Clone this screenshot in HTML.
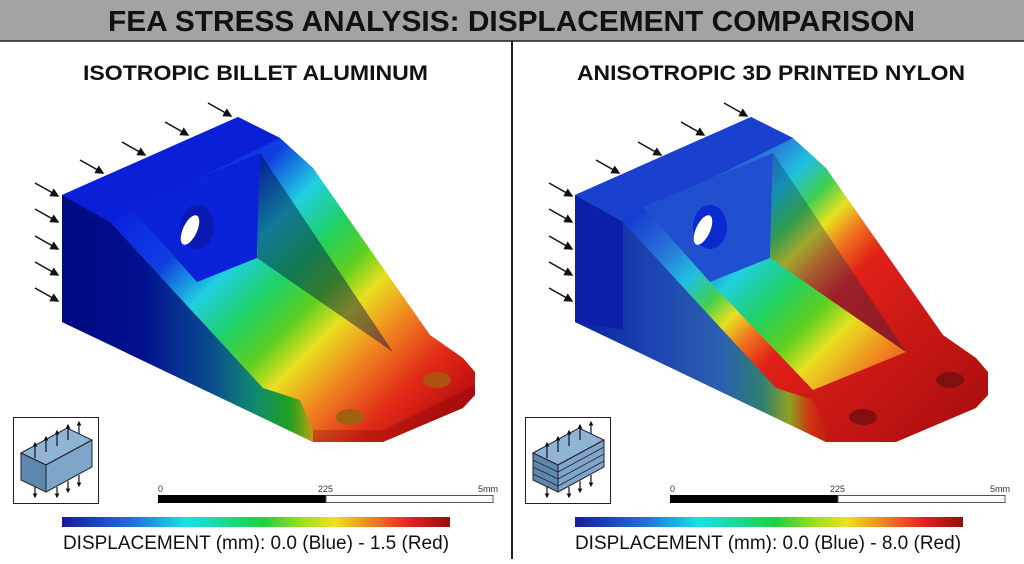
<!DOCTYPE html>
<html><head><meta charset="utf-8"><style>
html,body{margin:0;padding:0;background:#fff;}
body{width:1024px;height:559px;overflow:hidden;font-family:"Liberation Sans",sans-serif;}
</style></head><body>
<svg width="1024" height="559" viewBox="0 0 1024 559" xmlns="http://www.w3.org/2000/svg">
<defs>
<linearGradient id="cb" x1="0" x2="1" y1="0" y2="0">
<stop offset="0" stop-color="#1a1aa0"/><stop offset="0.18" stop-color="#1f6fe0"/><stop offset="0.32" stop-color="#19e0e8"/><stop offset="0.52" stop-color="#22d03a"/><stop offset="0.62" stop-color="#9ae020"/><stop offset="0.7" stop-color="#f0e020"/><stop offset="0.8" stop-color="#f08020"/><stop offset="0.9" stop-color="#e02020"/><stop offset="1" stop-color="#901010"/>
</linearGradient>
<linearGradient id="gL" gradientUnits="userSpaceOnUse" x1="130" y1="190" x2="400" y2="460">
<stop offset="0" stop-color="#0a1ee0"/><stop offset="0.2" stop-color="#1040e0"/><stop offset="0.33" stop-color="#20d0e0"/><stop offset="0.45" stop-color="#20d060"/><stop offset="0.55" stop-color="#60d020"/><stop offset="0.63" stop-color="#e8e020"/><stop offset="0.75" stop-color="#f08020"/><stop offset="0.88" stop-color="#e02a18"/><stop offset="1" stop-color="#c01010"/>
</linearGradient>
<linearGradient id="gR" gradientUnits="userSpaceOnUse" x1="130" y1="190" x2="400" y2="460">
<stop offset="0" stop-color="#1030d0"/><stop offset="0.15" stop-color="#2a70d8"/><stop offset="0.25" stop-color="#20c0e0"/><stop offset="0.33" stop-color="#40d050"/><stop offset="0.4" stop-color="#e8e020"/><stop offset="0.47" stop-color="#f07020"/><stop offset="0.55" stop-color="#e02018"/><stop offset="1" stop-color="#b01010"/>
</linearGradient>
<linearGradient id="fL" gradientUnits="userSpaceOnUse" x1="62" y1="0" x2="330" y2="0">
<stop offset="0" stop-color="#000a80"/><stop offset="0.3" stop-color="#001090"/><stop offset="0.55" stop-color="#0a4a90"/><stop offset="0.72" stop-color="#108a70"/><stop offset="0.85" stop-color="#20a020"/><stop offset="0.93" stop-color="#b0a010"/><stop offset="1" stop-color="#d06010"/>
</linearGradient>
<linearGradient id="fR" gradientUnits="userSpaceOnUse" x1="62" y1="0" x2="330" y2="0">
<stop offset="0" stop-color="#0c1fa0"/><stop offset="0.25" stop-color="#1a40b0"/><stop offset="0.55" stop-color="#2a60b0"/><stop offset="0.7" stop-color="#308070"/><stop offset="0.8" stop-color="#90a020"/><stop offset="0.88" stop-color="#d03010"/><stop offset="1" stop-color="#b01010"/>
</linearGradient>
<marker id="ah" markerWidth="6" markerHeight="6" refX="5" refY="3" orient="auto"><path d="M0,0L6,3L0,6z" fill="#111"/></marker>
<marker id="ah2" markerWidth="4" markerHeight="4" refX="3" refY="2" orient="auto"><path d="M0,0L4,2L0,4z" fill="#111"/></marker>
</defs>
<rect x="0" y="0" width="1024" height="41" fill="#a3a3a3"/>
<line x1="0" y1="41" x2="1024" y2="41" stroke="#222" stroke-width="1.5"/>
<line x1="512" y1="41" x2="512" y2="559" stroke="#222" stroke-width="2"/>
<text x="108" y="31" textLength="807" lengthAdjust="spacingAndGlyphs" font-size="29" font-weight="bold" fill="#111">FEA STRESS ANALYSIS: DISPLACEMENT COMPARISON</text>
<text x="83" y="80" textLength="345" lengthAdjust="spacingAndGlyphs" font-size="21" font-weight="bold" fill="#111">ISOTROPIC BILLET ALUMINUM</text>
<text x="577" y="80" textLength="388" lengthAdjust="spacingAndGlyphs" font-size="21" font-weight="bold" fill="#111">ANISOTROPIC 3D PRINTED NYLON</text>

<!-- Left bracket -->
<g>
<polygon points="62,195 238,117 280,138 313,168 430,335 463,358 475,372 475,395 463,408 383,442 313,442 62,322" fill="url(#gL)"/>
<polygon points="62,195 110,222 263,388 300,400 313,430 313,442 62,322" fill="url(#fL)"/>
<polygon points="62,195 238,117 280,138 110,222" fill="#0b1fd8"/>
<polygon points="130,207 260,153 257,258 197,282" fill="#0a22d8"/>
<polygon points="260,153 393,352 257,258" fill="url(#gL)"/>
<polygon points="260,153 393,352 257,258" fill="#001040" opacity="0.45"/>
<polygon points="313,430 383,430 475,385 475,395 463,408 383,442 313,442" fill="#600" opacity="0.25"/>
<ellipse cx="197" cy="227" rx="17" ry="22" fill="#0a1ab0"/>
<ellipse cx="190" cy="230" rx="7" ry="16" transform="rotate(25 190 230)" fill="#fff"/>
<ellipse cx="437" cy="380" rx="14" ry="8" fill="#b05010"/>
<ellipse cx="350" cy="417" rx="14" ry="8" fill="#a06010"/>
</g>
<!-- Right bracket -->
<g transform="translate(513,0)">
<polygon points="62,195 238,117 280,138 313,168 430,335 463,358 475,372 475,395 463,408 383,442 313,442 62,322" fill="url(#gR)"/>
<polygon points="62,195 110,222 263,388 300,400 313,430 313,442 62,322" fill="url(#fR)"/>
<polygon points="62,195 110,222 110,330 62,322" fill="#0c1fa8"/>
<polygon points="62,195 238,117 280,138 110,222" fill="#1a40d0"/>
<polygon points="130,207 260,153 257,258 197,282" fill="#2050d0"/>
<polygon points="197,282 257,258 393,352 300,390" fill="url(#gL)"/>
<polygon points="260,153 393,352 257,258" fill="url(#gR)"/>
<polygon points="260,153 393,352 257,258" fill="#002050" opacity="0.3"/>
<ellipse cx="197" cy="227" rx="17" ry="22" fill="#0a2ad0"/>
<ellipse cx="190" cy="230" rx="7" ry="16" transform="rotate(25 190 230)" fill="#fff"/>
<ellipse cx="437" cy="380" rx="14" ry="8" fill="#801010"/>
<ellipse cx="350" cy="417" rx="14" ry="8" fill="#801010"/>
</g>

<g stroke="#111" stroke-width="1.5" marker-end="url(#ah)">
<line x1="35" y1="183" x2="58" y2="196"/><line x1="35" y1="209" x2="58" y2="222"/><line x1="35" y1="236" x2="58" y2="249"/><line x1="35" y1="262" x2="58" y2="275"/><line x1="35" y1="288" x2="58" y2="301"/>
<line x1="80" y1="160" x2="103" y2="173"/><line x1="122" y1="142" x2="145" y2="155"/><line x1="165" y1="122" x2="188" y2="135"/><line x1="208" y1="103" x2="231" y2="116"/>
<line x1="549" y1="183" x2="572" y2="196"/><line x1="549" y1="209" x2="572" y2="222"/><line x1="549" y1="236" x2="572" y2="249"/><line x1="549" y1="262" x2="572" y2="275"/><line x1="549" y1="288" x2="572" y2="301"/>
<line x1="596" y1="160" x2="619" y2="173"/><line x1="638" y1="142" x2="661" y2="155"/><line x1="681" y1="122" x2="704" y2="135"/><line x1="724" y1="103" x2="747" y2="116"/>
</g>

<g>
<rect x="13.5" y="417.5" width="85" height="86" fill="#fff" stroke="#222"/>
<polygon points="21,453 67,428 92,440 46,465" fill="#8fb4d4" stroke="#223" />
<polygon points="21,453 46,465 46,492 21,480" fill="#5f88ae" stroke="#223"/>
<polygon points="46,465 92,440 92,467 46,492" fill="#7fa6c8" stroke="#223"/>
<rect x="525.5" y="417.5" width="85" height="86" fill="#fff" stroke="#222"/>
<polygon points="533,453 579,428 604,440 558,465" fill="#8fb4d4" stroke="#223"/>
<polygon points="533,453 558,465 558,492 533,480" fill="#5f88ae" stroke="#223"/>
<polygon points="558,465 604,440 604,467 558,492" fill="#7fa6c8" stroke="#223"/>
<g stroke="#223" stroke-width="0.8"><line x1="533" y1="460" x2="558" y2="472"/><line x1="533" y1="467" x2="558" y2="479"/><line x1="533" y1="474" x2="558" y2="486"/><line x1="558" y1="472" x2="604" y2="447"/><line x1="558" y1="479" x2="604" y2="454"/><line x1="558" y1="486" x2="604" y2="461"/></g>
<g stroke="#111" stroke-width="1.2" marker-end="url(#ah2)">
<line x1="35" y1="458" x2="35" y2="443"/><line x1="46" y1="452" x2="46" y2="437"/><line x1="57" y1="446" x2="57" y2="431"/><line x1="68" y1="440" x2="68" y2="425"/><line x1="79" y1="434" x2="79" y2="422"/>
<line x1="35" y1="487" x2="35" y2="497"/><line x1="57" y1="487" x2="57" y2="497"/><line x1="68" y1="481" x2="68" y2="492"/><line x1="79" y1="475" x2="79" y2="486"/>
<line x1="547" y1="458" x2="547" y2="443"/><line x1="558" y1="452" x2="558" y2="437"/><line x1="569" y1="446" x2="569" y2="431"/><line x1="580" y1="440" x2="580" y2="425"/><line x1="591" y1="434" x2="591" y2="422"/>
<line x1="547" y1="487" x2="547" y2="497"/><line x1="569" y1="487" x2="569" y2="497"/><line x1="580" y1="481" x2="580" y2="492"/><line x1="591" y1="475" x2="591" y2="486"/>
</g>
</g>

<text x="158" y="492" font-size="9" fill="#333">0</text><text x="318" y="492" font-size="9" fill="#333">225</text><text x="478" y="492" font-size="9" fill="#333">5mm</text>
<rect x="158" y="495" width="168" height="8" fill="#000"/><rect x="326" y="495.5" width="167" height="7" fill="#fff" stroke="#555"/>
<text x="670" y="492" font-size="9" fill="#333">0</text><text x="830" y="492" font-size="9" fill="#333">225</text><text x="990" y="492" font-size="9" fill="#333">5mm</text>
<rect x="670" y="495" width="168" height="8" fill="#000"/><rect x="838" y="495.5" width="167" height="7" fill="#fff" stroke="#555"/>

<rect x="62" y="517" width="388" height="10" fill="url(#cb)"/>
<rect x="575" y="517" width="388" height="10" fill="url(#cb)"/>
<text x="256" y="549" text-anchor="middle" font-size="19" fill="#111">DISPLACEMENT (mm): 0.0 (Blue) - 1.5 (Red)</text>
<text x="768" y="549" text-anchor="middle" font-size="19" fill="#111">DISPLACEMENT (mm): 0.0 (Blue) - 8.0 (Red)</text>
</svg>
</body></html>
